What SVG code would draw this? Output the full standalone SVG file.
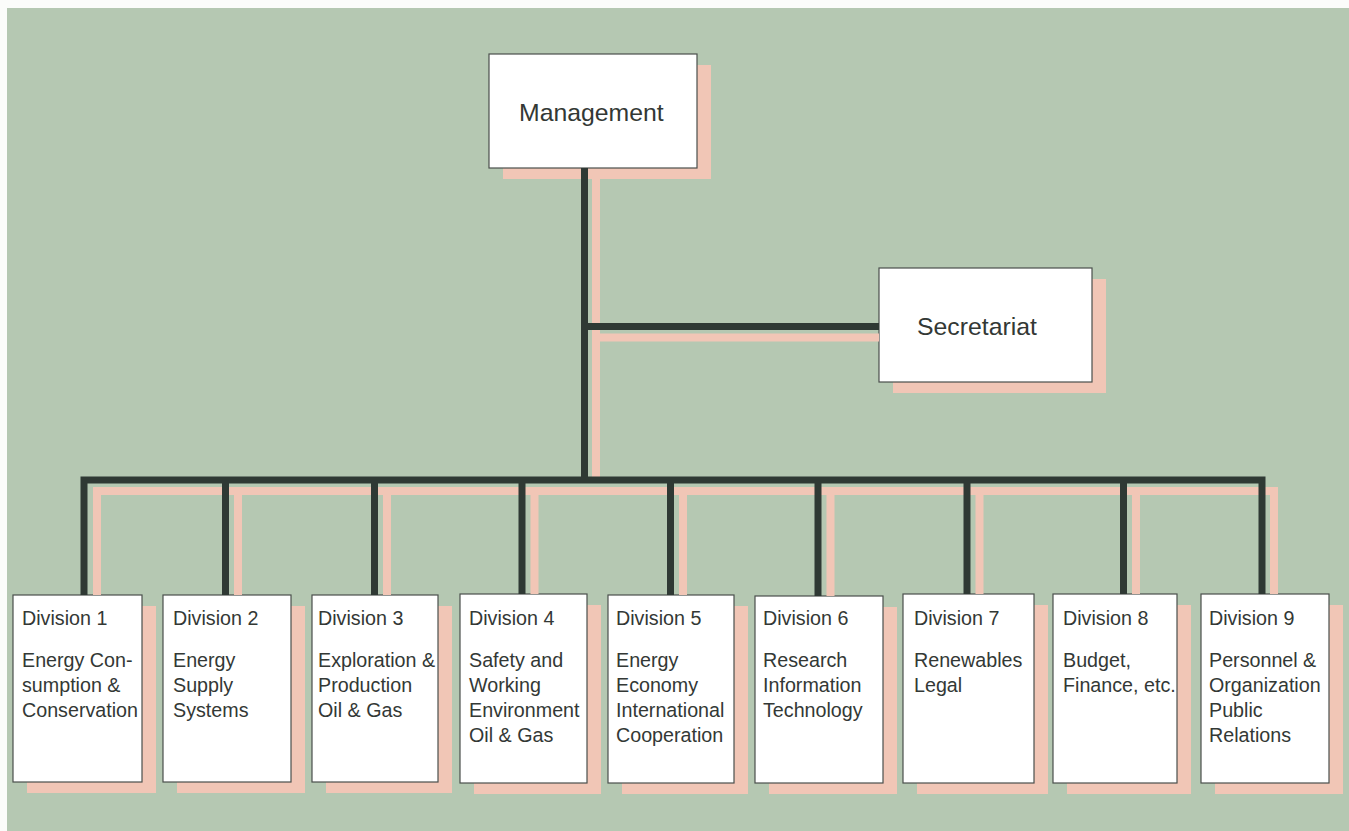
<svg xmlns="http://www.w3.org/2000/svg" width="1349" height="831" viewBox="0 0 1349 831">
<style>
.box{fill:#ffffff;stroke:#4a4f4c;stroke-width:1.2}
.sh{fill:#f1c6b6}
.t{font-family:"Liberation Sans",Arial,sans-serif;fill:#333835}
.big{font-size:24.8px}
.div{font-size:19.7px}
.dk{stroke:#2f3934;stroke-width:7;fill:none}
.pk{stroke:#f1c6b6;stroke-width:8;fill:none}
</style>
<rect x="0" y="0" width="1349" height="831" fill="#fbfcfa"/>
<rect x="7" y="8" width="1342" height="823" fill="#b5c8b2"/>
<g id="management">
<rect class="sh" x="503" y="65" width="208" height="114"/>
<rect class="box" x="489" y="54" width="208" height="114"/>
<text class="t big" x="519" y="121">Management</text>
</g>
<g id="secretariat">
<rect class="sh" x="893" y="279" width="213" height="114"/>
<rect class="box" x="879" y="268" width="213" height="114"/>
<text class="t big" x="917" y="335">Secretariat</text>
</g>
<g id="division1">
<rect class="sh" x="27" y="606" width="129" height="187"/>
<rect class="box" x="13" y="595" width="129" height="187"/>
<text class="t div" x="22" y="625">Division 1<tspan x="22" y="667">Energy Con-</tspan><tspan x="22" y="692">sumption &amp;</tspan><tspan x="22" y="717">Conservation</tspan></text>
</g>
<g id="division2">
<rect class="sh" x="177" y="606" width="128" height="187"/>
<rect class="box" x="163" y="595" width="128" height="187"/>
<text class="t div" x="173" y="625">Division 2<tspan x="173" y="667">Energy</tspan><tspan x="173" y="692">Supply</tspan><tspan x="173" y="717">Systems</tspan></text>
</g>
<g id="division3">
<rect class="sh" x="326" y="606" width="126" height="187"/>
<rect class="box" x="312" y="595" width="126" height="187"/>
<text class="t div" x="318" y="625">Division 3<tspan x="318" y="667">Exploration &amp;</tspan><tspan x="318" y="692">Production</tspan><tspan x="318" y="717">Oil &amp; Gas</tspan></text>
</g>
<g id="division4">
<rect class="sh" x="474" y="605" width="127" height="189"/>
<rect class="box" x="460" y="594" width="127" height="189"/>
<text class="t div" x="469" y="625">Division 4<tspan x="469" y="667">Safety and</tspan><tspan x="469" y="692">Working</tspan><tspan x="469" y="717">Environment</tspan><tspan x="469" y="742">Oil &amp; Gas</tspan></text>
</g>
<g id="division5">
<rect class="sh" x="622" y="606" width="126" height="188"/>
<rect class="box" x="608" y="595" width="126" height="188"/>
<text class="t div" x="616" y="625">Division 5<tspan x="616" y="667">Energy</tspan><tspan x="616" y="692">Economy</tspan><tspan x="616" y="717">International</tspan><tspan x="616" y="742">Cooperation</tspan></text>
</g>
<g id="division6">
<rect class="sh" x="769" y="607" width="128" height="187"/>
<rect class="box" x="755" y="596" width="128" height="187"/>
<text class="t div" x="763" y="625">Division 6<tspan x="763" y="667">Research</tspan><tspan x="763" y="692">Information</tspan><tspan x="763" y="717">Technology</tspan></text>
</g>
<g id="division7">
<rect class="sh" x="917" y="605" width="131" height="189"/>
<rect class="box" x="903" y="594" width="131" height="189"/>
<text class="t div" x="914" y="625">Division 7<tspan x="914" y="667">Renewables</tspan><tspan x="914" y="692">Legal</tspan></text>
</g>
<g id="division8">
<rect class="sh" x="1067" y="605" width="124" height="189"/>
<rect class="box" x="1053" y="594" width="124" height="189"/>
<text class="t div" x="1063" y="625">Division 8<tspan x="1063" y="667">Budget,</tspan><tspan x="1063" y="692">Finance, etc.</tspan></text>
</g>
<g id="division9">
<rect class="sh" x="1215" y="605" width="128" height="189"/>
<rect class="box" x="1201" y="594" width="128" height="189"/>
<text class="t div" x="1209" y="625">Division 9<tspan x="1209" y="667">Personnel &amp;</tspan><tspan x="1209" y="692">Organization</tspan><tspan x="1209" y="717">Public</tspan><tspan x="1209" y="742">Relations</tspan></text>
</g>
<g id="connectors">
<path class="pk" d="M596,179 V480 M596,337.5 H879 M93,491 H1278 M97,487 V595 M238,487 V595 M387,487 V595 M534.5,487 V594 M683,487 V595 M830.5,487 V596 M979.5,487 V594 M1136,487 V594 M1274,487 V594"/>
<path class="dk" d="M584.5,168 V483.5 M584.5,326.5 H879 M80.5,480 H1265.5 M84,476.5 V595 M225.5,476.5 V595 M374.5,476.5 V595 M522,476.5 V594 M670.5,476.5 V595 M818,476.5 V596 M967,476.5 V594 M1123.5,476.5 V594 M1262,476.5 V594"/>
</g>
</svg>
